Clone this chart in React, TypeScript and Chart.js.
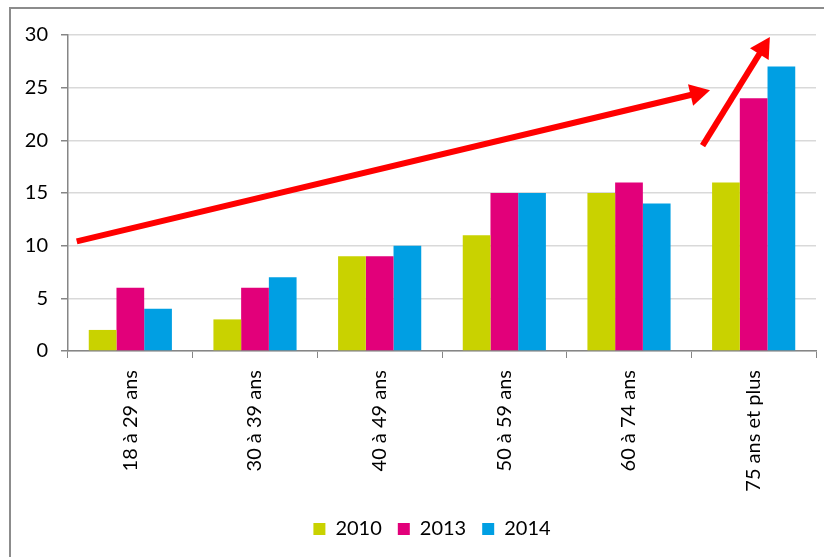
import React, { useEffect, useRef } from "react";
import { Chart, registerables } from "chart.js";

Chart.register(...registerables);

const categories = ["18 à 29 ans", "30 à 39 ans", "40 à 49 ans", "50 à 59 ans", "60 à 74 ans", "75 ans et plus"];
const values2010 = [2, 3, 9, 11, 15, 16];
const values2013 = [6, 6, 9, 15, 16, 24];
const values2014 = [4, 7, 10, 15, 14, 27];
const seriesLabels = ["2010", "2013", "2014"];
const yTicks = [0, 5, 10, 15, 20, 25, 30];
// arrows in data units: [categoryIndex, value] start -> end
const arrowStarts = [[-0.43, 10.4], [4.59, 19.5]];
const arrowEnds = [[4.65, 24.75], [5.13, 29.8]];

const FONT = "Lato, 'Open Sans', sans-serif";

const arrowPlugin = {
  id: "arrows",
  afterLayout(chart: any) {
    const lg = chart.legend;
    if (lg) {
      lg.left += 24;
      lg.right += 24;
    }
  },
  afterDatasetsDraw(chart: any) {
    const ctx = chart.ctx;
    const xs = chart.scales.x;
    const ys = chart.scales.y;
    ctx.save();
    ctx.strokeStyle = "#ff0000";
    ctx.fillStyle = "#ff0000";
    ctx.lineWidth = 6;
    for (let i = 0; i < arrowStarts.length; i++) {
      const x0 = xs.getPixelForValue(arrowStarts[i][0]);
      const y0 = ys.getPixelForValue(arrowStarts[i][1]);
      const x1 = xs.getPixelForValue(arrowEnds[i][0]);
      const y1 = ys.getPixelForValue(arrowEnds[i][1]);
      const ang = Math.atan2(y1 - y0, x1 - x0);
      const headLen = 20;
      const headW = 11;
      const bx = x1 - headLen * Math.cos(ang);
      const by = y1 - headLen * Math.sin(ang);
      ctx.beginPath();
      ctx.moveTo(x0, y0);
      ctx.lineTo(bx + 2 * Math.cos(ang), by + 2 * Math.sin(ang));
      ctx.stroke();
      ctx.beginPath();
      ctx.moveTo(x1, y1);
      ctx.lineTo(bx + headW * Math.sin(ang), by - headW * Math.cos(ang));
      ctx.lineTo(bx - headW * Math.sin(ang), by + headW * Math.cos(ang));
      ctx.closePath();
      ctx.fill();
    }
    ctx.restore();
  },
};

export default function App() {
  const ref = useRef<HTMLCanvasElement>(null);
  useEffect(() => {
    const colors = ["#c9d200", "#e2007a", "#009fe3"];
    const data = [values2010, values2013, values2014];
    const chart = new Chart(ref.current!, {
      type: "bar",
      data: {
        labels: categories,
        datasets: seriesLabels.map((l, i) => ({
          label: l,
          data: data[i],
          backgroundColor: colors[i],
          borderWidth: 0,
          barPercentage: 1,
          categoryPercentage: 0.667,
        })),
      },
      options: {
        animation: false,
        responsive: false,
        maintainAspectRatio: false,
        layout: { padding: { left: 0, right: 8, top: 35, bottom: 8 } },
        plugins: {
          legend: {
            position: "bottom",
            labels: {
              boxWidth: 12,
              boxHeight: 12,
              padding: 16,
              color: "#000",
              font: { family: FONT, size: 20 },
            },
          },
          tooltip: { enabled: false },
        },
        scales: {
          x: {
            grid: {
              drawOnChartArea: false,
              drawTicks: true,
              tickLength: 7,
              color: "#868686",
              tickColor: "#868686",
              offset: true,
            },
            border: { color: "#868686", width: 1.5 },
            ticks: {
              minRotation: 90,
              maxRotation: 90,
              padding: 12,
              color: "#000",
              font: { family: FONT, size: 20 },
            },
            afterFit: (s: any) => { s.height = 152; },
          },
          y: {
            min: 0,
            max: 30,
            afterBuildTicks: (s: any) => { s.ticks = yTicks.map((v) => ({ value: v })); },
            grid: { color: "#d9d9d9", tickColor: "#868686", tickLength: 7, lineWidth: 1.5 },
            border: { color: "#868686", width: 1.5 },
            ticks: {
              padding: 13,
              color: "#000",
              font: { family: FONT, size: 20 },
            },
            afterFit: (s: any) => { s.width = 68; },
          },
        },
      },
      plugins: [arrowPlugin],
    });
    return () => chart.destroy();
  }, []);
  return (
    <div style={{ position: "fixed", left: 0, top: 0, width: 824, height: 557, background: "#fff", overflow: "hidden" }}>
      <div style={{ position: "absolute", left: 9, top: 7, width: 900, height: 700, borderLeft: "2px solid #8c8c8c", borderTop: "2px solid #8c8c8c" }} />
      <canvas ref={ref} width={824} height={557} style={{ position: "absolute", left: 0, top: 0 }} />
    </div>
  );
}
